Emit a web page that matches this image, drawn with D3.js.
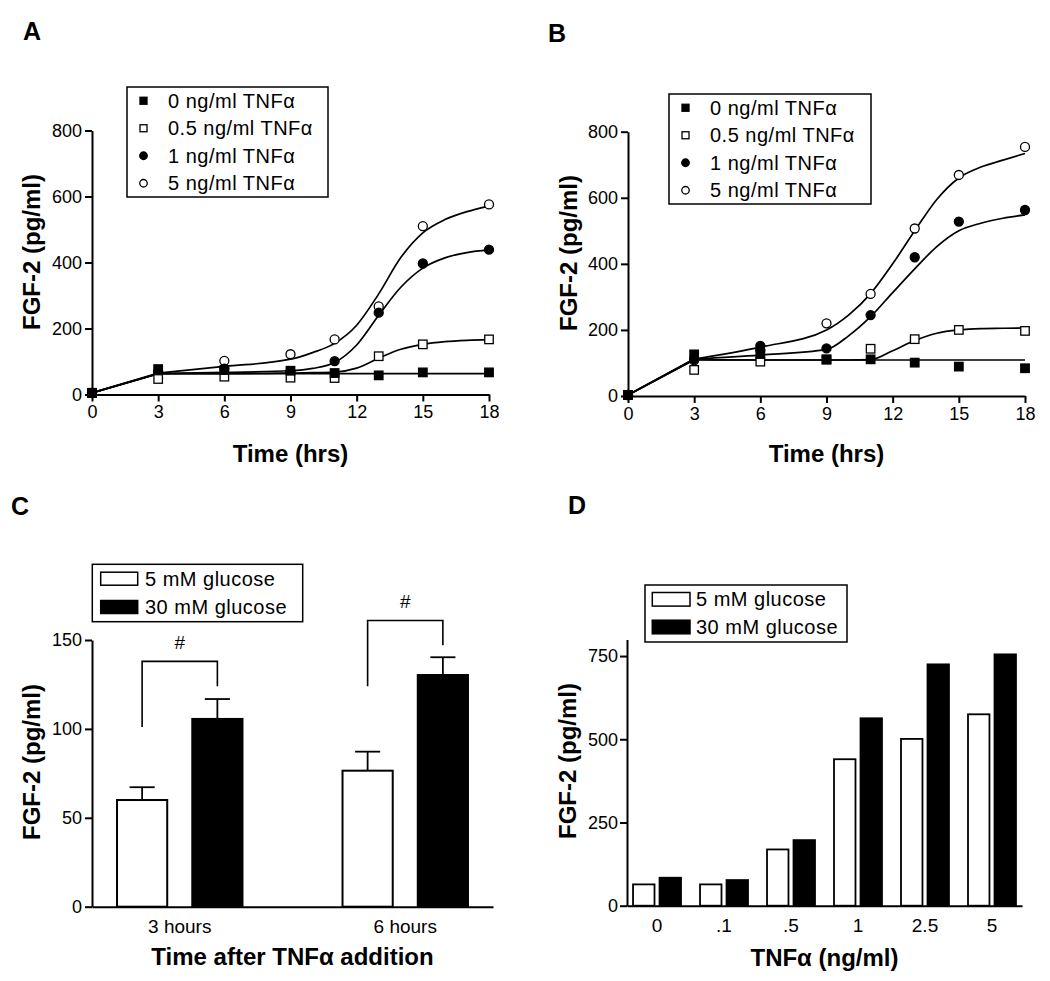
<!DOCTYPE html>
<html><head><meta charset="utf-8">
<script src="https://cdn.jsdelivr.net/npm/d3@7"></script>
<style>body{margin:0;background:#fff}</style>
</head><body>
<script>
// ---------- DATA ----------
const seriesNames = ["0 ng/ml TNFα","0.5 ng/ml TNFα","1 ng/ml TNFα","5 ng/ml TNFα"];
const timePoints = [0,3,6,9,11,13,15,18];
const xTicksTime = [0,3,6,9,12,15,18];
const yTicksTime = [0,200,400,600,800];

// Panel A measured points
const ptsA0  = [5,77,74,72,65,58,67,67];
const ptsA05 = [5,47,54,51,50,116,152,167];
const ptsA1  = [5,70,78,70,101,248,397,439];
const ptsA5  = [5,65,102,122,167,267,510,576];
// Panel B measured points
const ptsB0  = [3,126,127,111,111,101,89,84];
const ptsB05 = [3,79,104,110,143,172,200,197];
const ptsB1  = [3,112,152,144,245,420,528,563];
const ptsB5  = [3,108,139,220,309,507,669,754];

// fitted curves
const fitTimes = [0,3,6,9,10,11,12,13,14,15,16,17,18];
const fitA0  = [5,63,63,63,63,63,63,63,63,63,63,63,63];
const fitA05 = [5,63,63,65,66,68,80,110,137,152,160,164,166];
const fitA1  = [5,63,67,72,79,97,150,240,325,383,414,430,438];
const fitA5  = [5,65,85,107,127,155,210,305,415,490,530,554,571];
const fitB0  = [3,110,109,109,109,109,109,109,109,109,109,109,109];
const fitB05 = [3,110,109,109,109,110,137,168,190,200,204,205,206];
const fitB1  = [3,112,124,141,182,240,313,385,452,500,523,538,548];
const fitB5  = [3,112,148,200,245,310,400,500,595,660,693,714,734];

// Panel C
const catC = ["3 hours","6 hours"];
const glucose = ["5 mM glucose","30 mM glucose"];
const meanC5  = [60,76.5];
const meanC30 = [105.6,130.3];
const semC5   = [7.2,10.7];
const semC30  = [11.2,10];
const bracketLeftBottom  = [101,124];
const bracketTop         = [138,161];
const bracketRightBottom = [124,147];
const yTicksC = [0,50,100,150];

// Panel D
const catD = ["0",".1",".5","1","2.5","5"];
const valD5  = [64,64,169,440,501,575];
const valD30 = [84,77,197,563,725,755];
const yTicksD = [0,250,500,750];

// ---------- DRAW ----------
const F = "'Liberation Sans', Arial, Helvetica, sans-serif";
const svg = d3.select("body").append("svg").attr("width",1050).attr("height",981)
  .style("background","#fff");

function styleAxis(g, fs){
  g.select(".domain").attr("stroke","#000").attr("stroke-width",2);
  g.selectAll(".tick line").attr("stroke","#000").attr("stroke-width",2);
  g.selectAll(".tick text").attr("font-size",fs||18).attr("font-family",F).attr("fill","#000");
}
function label(x,y,t,size,bold,anchor,rot){
  const tx = svg.append("text").attr("font-family",F).attr("font-size",size)
    .attr("font-weight",bold?"bold":"normal").attr("text-anchor",anchor||"middle")
    .attr("dominant-baseline","central").attr("fill","#000").text(t);
  if(rot) tx.attr("transform",`translate(${x},${y}) rotate(${rot})`);
  else tx.attr("x",x).attr("y",y);
  return tx;
}
function marker(g,type,x,y,s){
  const filled = (type===0||type===2);
  if(type<2){
    g.append("rect").attr("x",x-s/2).attr("y",y-s/2).attr("width",s).attr("height",s)
      .attr("fill",filled?"#000":"#fff").attr("stroke","#000").attr("stroke-width",1.3);
  } else {
    g.append("circle").attr("cx",x).attr("cy",y).attr("r",s/2)
      .attr("fill",filled?"#000":"#fff").attr("stroke","#000").attr("stroke-width",1.3);
  }
}

function timePanel(opt){
  const x = d3.scaleLinear().domain([0,18]).range(opt.xr);
  const y = d3.scaleLinear().domain([0,800]).range(opt.yr);
  const g = svg.append("g");
  opt.fits.forEach(f=>{
    const pts = fitTimes.map((t,i)=>[t,f[i]]);
    g.append("path").datum(pts.slice(0,2)).attr("fill","none").attr("stroke","#000").attr("stroke-width",1.7)
      .attr("d",d3.line().x(d=>x(d[0])).y(d=>y(d[1])));
    g.append("path").datum(pts.slice(1)).attr("fill","none").attr("stroke","#000").attr("stroke-width",1.7)
      .attr("d",d3.line().x(d=>x(d[0])).y(d=>y(d[1])).curve(d3.curveMonotoneX));
  });
  [3,2,1,0].forEach(k=>{
    opt.pts[k].forEach((v,i)=>marker(g,k,x(timePoints[i]),y(v),k<2?8.5:9));
  });
  const ya = svg.append("g").attr("transform",`translate(${opt.xr[0]},0)`)
    .call(d3.axisLeft(y).tickValues(yTicksTime).tickSize(7).tickSizeOuter(0).tickPadding(3));
  styleAxis(ya);
  const xa = svg.append("g").attr("transform",`translate(0,${opt.yr[0]})`)
    .call(d3.axisBottom(x).tickValues(xTicksTime).tickSize(7).tickSizeOuter(0).tickPadding(4));
  styleAxis(xa);
  const L = opt.leg;
  svg.append("rect").attr("x",L[0]).attr("y",L[1]).attr("width",L[2]).attr("height",L[3])
    .attr("fill","#fff").attr("stroke","#000").attr("stroke-width",1.5);
  const step = L[3]/4;
  seriesNames.forEach((n,k)=>{
    const cy = L[1]+step/2+k*step;
    marker(svg,k,L[0]+16.5,cy,k<2?7:7.5);
    label(L[0]+41,cy,n,20,false,"start").attr("letter-spacing","0.5");
  });
  label(opt.title[0],opt.title[1],"FGF-2 (pg/ml)",24,true,"middle",-90);
  label((opt.xr[0]+opt.xr[1])/2,453,"Time (hrs)",24,true);
  label(opt.letter[0],opt.letter[1],opt.letter[2],25,true);
}

timePanel({xr:[92,489], yr:[394.5,130.5], fits:[fitA0,fitA05,fitA1,fitA5],
  pts:[ptsA0,ptsA05,ptsA1,ptsA5], leg:[127,87,201,110], title:[31,252], letter:[32,31,"A"]});
timePanel({xr:[628,1025], yr:[396,131.7], fits:[fitB0,fitB05,fitB1,fitB5],
  pts:[ptsB0,ptsB05,ptsB1,ptsB5], leg:[669,94,202,110], title:[568,253], letter:[557,33,"B"]});

// ---------- Panel C ----------
(function(){
  const x0 = d3.scaleBand().domain(catC).range([92,493]).paddingInner(0.4437).paddingOuter(0.111);
  const x1 = d3.scaleBand().domain(glucose).range([0,x0.bandwidth()]).paddingInner(0.333);
  const y = d3.scaleLinear().domain([0,150]).range([906.7,640]);
  const g = svg.append("g");
  const vals = [meanC5,meanC30], sems=[semC5,semC30];
  catC.forEach((c,i)=>{
    glucose.forEach((gl,j)=>{
      const bx = x0(c)+x1(gl), bw=x1.bandwidth(), cx=bx+bw/2;
      const top = y(vals[j][i]), et = y(vals[j][i]+sems[j][i]);
      g.append("line").attr("x1",cx).attr("x2",cx).attr("y1",top).attr("y2",et).attr("stroke","#000").attr("stroke-width",1.8);
      g.append("line").attr("x1",cx-bw/4).attr("x2",cx+bw/4).attr("y1",et).attr("y2",et).attr("stroke","#000").attr("stroke-width",1.8);
      g.append("rect").attr("x",bx).attr("y",top).attr("width",bw).attr("height",y(0)-top)
        .attr("fill",j?"#000":"#fff").attr("stroke","#000").attr("stroke-width",2);
    });
    const lx = x0(c)+x1(glucose[0])+x1.bandwidth()/2, rx = x0(c)+x1(glucose[1])+x1.bandwidth()/2;
    g.append("path").attr("fill","none").attr("stroke","#000").attr("stroke-width",1.6)
      .attr("d",`M${lx},${y(bracketLeftBottom[i])}V${y(bracketTop[i])}H${rx}V${y(bracketRightBottom[i])}`);
    label((lx+rx)/2,y(bracketTop[i])-19,"#",19,false);
  });
  const ya = svg.append("g").attr("transform","translate(92,0)")
    .call(d3.axisLeft(y).tickValues(yTicksC).tickSize(7).tickSizeOuter(0).tickPadding(3));
  styleAxis(ya);
  const xa = svg.append("g").attr("transform","translate(0,906.7)")
    .call(d3.axisBottom(x0).tickSize(0).tickSizeOuter(0).tickPadding(13));
  styleAxis(xa, 19);
  svg.append("rect").attr("x",92.3).attr("y",564.3).attr("width",210.4).attr("height",57.4)
    .attr("fill","#fff").attr("stroke","#000").attr("stroke-width",1.5);
  glucose.forEach((gl,j)=>{
    const cy = 578.7 + j*28.3;
    svg.append("rect").attr("x",100.7).attr("y",cy-6.5).attr("width",37).attr("height",13)
      .attr("fill",j?"#000":"#fff").attr("stroke","#000").attr("stroke-width",1.5);
    label(145,cy,gl,20,false,"start").attr("letter-spacing","0.5");
  });
  label(31,762,"FGF-2 (pg/ml)",24,true,"middle",-90);
  label(292.5,956,"Time after TNFα addition",24,true);
  label(20,506,"C",25,true);
})();

// ---------- Panel D ----------
(function(){
  const x0 = d3.scaleBand().domain(catD).range([627,1022]).paddingInner(0.284).paddingOuter(0.09);
  const x1 = d3.scaleBand().domain(glucose).range([0,x0.bandwidth()]).paddingInner(0.19);
  const y = d3.scaleLinear().domain([0,800]).range([905.7,639.4]);
  const g = svg.append("g");
  const vals=[valD5,valD30];
  catD.forEach((c,i)=>{
    glucose.forEach((gl,j)=>{
      const bx = x0(c)+x1(gl), bw=x1.bandwidth(), top=y(vals[j][i]);
      g.append("rect").attr("x",bx).attr("y",top).attr("width",bw).attr("height",y(0)-top)
        .attr("fill",j?"#000":"#fff").attr("stroke","#000").attr("stroke-width",1.8);
    });
  });
  const ya = svg.append("g").attr("transform","translate(627,0)")
    .call(d3.axisLeft(y).tickValues(yTicksD).tickSize(7).tickSizeOuter(0).tickPadding(2));
  styleAxis(ya);
  const xa = svg.append("g").attr("transform","translate(0,905.7)")
    .call(d3.axisBottom(x0).tickSize(0).tickSizeOuter(0).tickPadding(13));
  styleAxis(xa, 19);
  svg.append("rect").attr("x",645).attr("y",585).attr("width",202).attr("height",57)
    .attr("fill","#fff").attr("stroke","#000").attr("stroke-width",1.5);
  glucose.forEach((gl,j)=>{
    const cy = 599.3 + j*27.7;
    svg.append("rect").attr("x",652.3).attr("y",cy-6.8).attr("width",37.7).attr("height",13.6)
      .attr("fill",j?"#000":"#fff").attr("stroke","#000").attr("stroke-width",1.5);
    label(696,cy,gl,20,false,"start").attr("letter-spacing","0.5");
  });
  label(567,761,"FGF-2 (pg/ml)",24,true,"middle",-90);
  label(824.5,957,"TNFα (ng/ml)",24,true);
  label(577,505,"D",25,true);
})();
</script>
</body></html>
